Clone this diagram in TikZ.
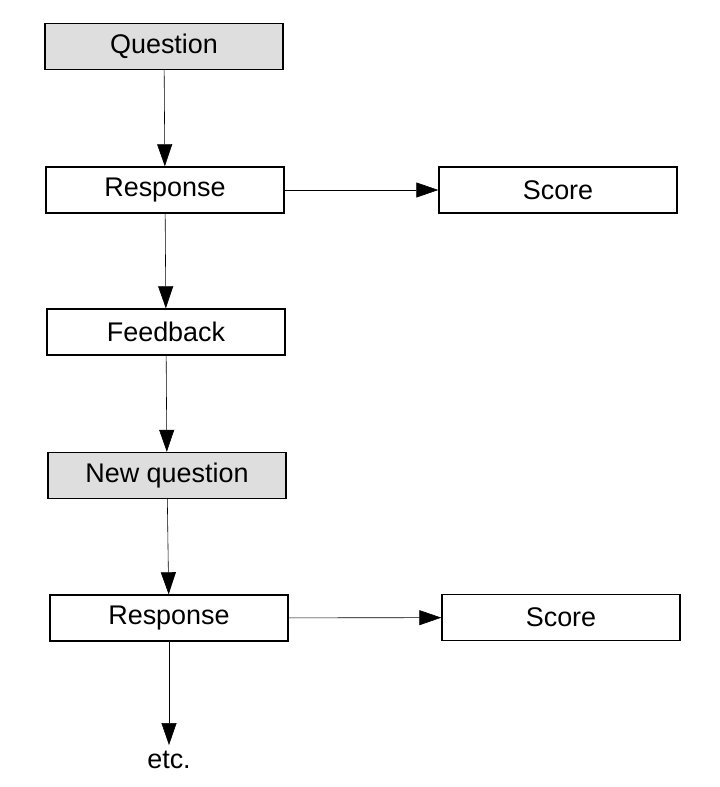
\documentclass[tikz,border=0pt]{standalone}
\usepackage{fontspec}
\setmainfont{Liberation Sans}
\usetikzlibrary{arrows.meta}

\begin{document}
\begin{tikzpicture}[
    x=0.03cm, y=-0.03cm,
    stage/.style={
        rectangle,
        draw=black,
        line width=1.2pt,
        minimum width=7.14cm,
        minimum height=1.38cm,
        inner sep=0pt,
        font=\fontsize{23}{27}\selectfont
    },
    shaded/.style={
        stage,
        fill=black!13
    },
    link/.style={
        line width=0.5pt,
        -{Triangle[length=0.66cm, width=0.45cm]}
    }
    ]
    \useasboundingbox (0,0) rectangle (719,787);

    \node[shaded] (question) at (164,46.5) {Question};
    \node[stage] (response) at (165,190) {Response};
    \node[stage] (score) at (558,190) {Score};
    \node[stage] (feedback) at (166,332) {Feedback};
    \node[shaded] (newq) at (167,475.5) {New question};
    \node[stage] (response2) at (169,618) {Response};
    \node[stage] (score2) at (561,617.5) {Score};
    \node[font=\fontsize{23}{27}\selectfont, inner sep=5pt] (etc) at (169,760) {etc.};

    \draw[link] (question) -- (response);
    \draw[link] (response) -- (score);
    \draw[link] (response) -- (feedback);
    \draw[link] (feedback) -- (newq);
    \draw[link] (newq) -- (response2);
    \draw[link] (response2) -- (score2);
    \draw[link] (response2) -- (etc);
\end{tikzpicture}
\end{document}
